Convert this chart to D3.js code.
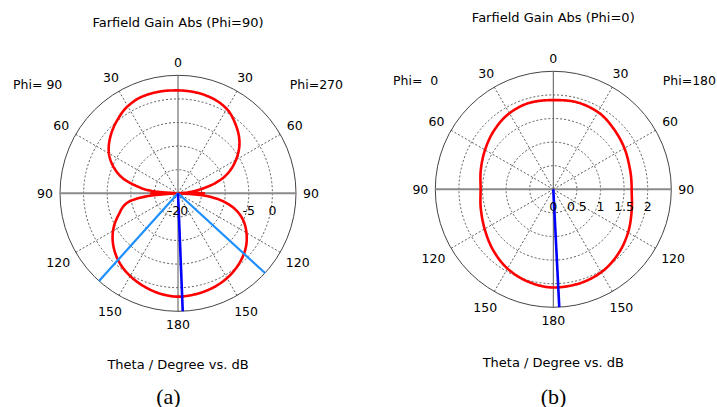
<!DOCTYPE html>
<html><head><meta charset="utf-8">
<script src="https://cdn.jsdelivr.net/npm/d3@7"></script>
<style>
html,body{margin:0;padding:0;background:#fff;}
svg{display:block;}
text{font-family:"DejaVu Sans",Verdana,sans-serif;fill:#000;}
</style></head>
<body><svg id="chart" width="717" height="407"></svg>
<script>
// ---------- data ----------
// theta in degrees, measured from the 0 mark (top), both half-planes
const thetaA = [0,10,20,30,40,50,60,70,75,80,85,88,90,92,95,100,110,120,130,140,150,160,170,180];
// (a) Phi=270 half (right side), gain in dB
const gainA_phi270 = [1.8,1.7,1.4,0.65,-1.0,-3.0,-5.8,-9.4,-12.0,-15.2,-18,-19.8,-14.5,-19.8,-14.5,-10.3,-5.8,-3.25,-1.4,-0.15,0.75,1.35,1.7,1.9];
// (a) Phi=90 half (left side), gain in dB
const gainA_phi90  = [1.8,1.9,1.85,1.3,0.1,-1.3,-3.1,-6.0,-8.0,-11.0,-14.5,-19.5,-14.3,-19.5,-14.0,-9.3,-6.6,-4.1,-2.2,-0.75,0.25,1.0,1.6,1.9];

const thetaB = [0,15,30,45,60,75,90,105,120,135,150,165,180];
// (b) Phi=180 half (right side), gain in dB
const gainB_phi180 = [1.89,1.91,1.89,1.81,1.74,1.68,1.66,1.72,1.83,1.94,2.03,2.07,2.08];
// (b) Phi=0 half (left side), gain in dB
const gainB_phi0   = [1.89,1.9,1.86,1.77,1.67,1.59,1.54,1.59,1.68,1.81,1.94,2.03,2.08];

// main lobe direction and 3 dB beam-width markers (degrees, clockwise from top)
const mainLobeA = [177.7];
const beamWidthA = [132.5, 222];
const mainLobeB = [177.1];
const beamWidthB = [];

const radialDomainA = [-20, 5];
const radialDomainB = [0, 2.5];
const gridA = [-15, -10, -5, 0];
const gridB = [0.5, 1, 1.5, 2];
const tickLabelsA = [-20, -5, 0];
const tickLabelsB = [0, 0.5, 1, 1.5, 2];
const angleTicks = [0, 30, 60, 90, 120, 150, 180, 210, 240, 270, 300, 330];

const titles = ["Farfield Gain Abs (Phi=90)", "Farfield Gain Abs (Phi=0)"];
const leftPhi = ["Phi= 90", "Phi=  0"];
const rightPhi = ["Phi=270", "Phi=180"];
const xLabel = "Theta / Degree vs. dB";
const captions = ["(a)", "(b)"];

// ---------- drawing ----------
const svg = d3.select("#chart");
const R = 118;
const rad = d => d * Math.PI / 180;

// monotone cubic (Fritsch-Carlson) interpolation of gain vs. angle, sampled finely
function densify(xs, ys, step) {
  const n = xs.length, h = [], s = [], m = new Array(n);
  for (let i = 0; i < n - 1; i++) { h[i] = xs[i+1] - xs[i]; s[i] = (ys[i+1] - ys[i]) / h[i]; }
  m[0] = 0; m[n-1] = 0;
  for (let i = 1; i < n - 1; i++) {
    if (s[i-1] * s[i] <= 0) m[i] = 0;
    else m[i] = 3 * (h[i-1] + h[i]) / ((2*h[i] + h[i-1]) / s[i-1] + (h[i] + 2*h[i-1]) / s[i]);
  }
  const out = [];
  for (let i = 0; i < n - 1; i++) {
    for (let x = xs[i]; x < xs[i+1] - 1e-9; x += step) {
      const t = (x - xs[i]) / h[i], t2 = t*t, t3 = t2*t;
      const y = (2*t3 - 3*t2 + 1) * ys[i] + (t3 - 2*t2 + t) * h[i] * m[i]
              + (-2*t3 + 3*t2) * ys[i+1] + (t3 - t2) * h[i] * m[i+1];
      out.push([x, y]);
    }
  }
  out.push([xs[n-1], ys[n-1]]);
  return out;
}

function drawPolar(cfg) {
  const g = svg.append("g").attr("transform", `translate(${cfg.cx},${cfg.cy})`);
  const r = d3.scaleLinear().domain(cfg.domain).range([0, R]).clamp(true);

  // dashed grid circles
  g.selectAll("circle.grid").data(cfg.grid).join("circle")
    .attr("r", d => r(d)).attr("fill", "none")
    .attr("stroke", "#333").attr("stroke-width", 0.8).attr("stroke-dasharray", "2,2");
  // dashed spokes
  const spokes = angleTicks.filter(a => a % 90 !== 0);
  g.selectAll("line.spoke").data(spokes).join("line")
    .attr("x1", 0).attr("y1", 0)
    .attr("x2", a => R * Math.sin(rad(a))).attr("y2", a => -R * Math.cos(rad(a)))
    .attr("stroke", "#333").attr("stroke-width", 0.8).attr("stroke-dasharray", "2,2");
  // outer circle
  g.append("circle").attr("r", R).attr("fill", "none").attr("stroke", "#444").attr("stroke-width", 1);
  // axes
  g.append("line").attr("x1", -R).attr("x2", R).attr("y1", 0).attr("y2", 0)
    .attr("stroke", "#8a8a8a").attr("stroke-width", 2);
  g.append("line").attr("x1", 0).attr("x2", 0).attr("y1", -R).attr("y2", R)
    .attr("stroke", "#555").attr("stroke-width", 1);

  // pattern: right half 0..180, then left half 180..0 (angle 360-theta)
  const right = densify(cfg.theta, cfg.right, 0.5);
  const left = densify(cfg.theta, cfg.left, 0.5);
  const pts = right.map(([t, v]) => [rad(t), r(v)]);
  for (let i = left.length - 2; i >= 1; i--) pts.push([rad(360 - left[i][0]), r(left[i][1])]);
  const line = d3.lineRadial().curve(d3.curveLinearClosed);
  g.append("path").attr("d", line(pts)).attr("fill", "none")
    .attr("stroke", "#ff0000").attr("stroke-width", 2.6).attr("stroke-linejoin", "round");

  // beam width markers
  const seg = d3.lineRadial();
  cfg.beam.forEach(a => {
    g.append("path").attr("d", seg([[rad(a), 0], [rad(a), R]]))
      .attr("stroke", "#1e8fff").attr("stroke-width", 2.2).attr("fill", "none");
  });
  cfg.main.forEach(a => {
    g.append("path").attr("d", seg([[rad(a), 0], [rad(a), R]]))
      .attr("stroke", "#0000ff").attr("stroke-width", 2.6).attr("fill", "none");
  });

  // radial tick labels
  g.selectAll("text.rt").data(cfg.ticks).join("text")
    .attr("x", d => r(d)).attr("y", 17)
    .attr("text-anchor", "middle").attr("dominant-baseline", "central")
    .attr("font-size", 12.5).text(d => d);

  // angle labels
  angleTicks.forEach(a => {
    const txt = a <= 180 ? a : 360 - a;
    const t = g.append("text").attr("text-anchor", "middle").attr("dominant-baseline", "central")
      .attr("font-size", 12.5).text(txt);
    const hw = t.node().getComputedTextLength() / 2, hh = 6;
    const s = Math.sin(rad(a)), c = Math.cos(rad(a));
    const d = R + 7 + hw * Math.abs(s) + hh * Math.abs(c);
    t.attr("x", d * s).attr("y", -d * c);
  });

  // titles
  svg.append("text").attr("x", cfg.cx).attr("y", cfg.titleY).attr("text-anchor", "middle")
    .attr("dominant-baseline", "central").attr("font-size", 13).text(cfg.title);
  svg.append("text").attr("x", cfg.phiLX).attr("y", cfg.phiY).attr("text-anchor", "start")
    .attr("dominant-baseline", "central").attr("font-size", 12.5).style("white-space", "pre").text(cfg.phiL);
  svg.append("text").attr("x", cfg.phiRX).attr("y", cfg.phiY).attr("text-anchor", "end")
    .attr("dominant-baseline", "central").attr("font-size", 12.5).style("white-space", "pre").text(cfg.phiR);
  svg.append("text").attr("x", cfg.cx).attr("y", cfg.xlabY).attr("text-anchor", "middle")
    .attr("dominant-baseline", "central").attr("font-size", 13).text(xLabel);
  svg.append("text").attr("x", cfg.capX).attr("y", 396).attr("text-anchor", "middle")
    .attr("dominant-baseline", "central").attr("font-size", 22)
    .style("font-family", '"Liberation Serif","Times New Roman",serif').text(cfg.cap);
}

drawPolar({cx: 178, cy: 193.3, domain: radialDomainA, grid: gridA, ticks: tickLabelsA,
  theta: thetaA, right: gainA_phi270, left: gainA_phi90, beam: beamWidthA, main: mainLobeA,
  title: titles[0], titleY: 22, phiL: leftPhi[0], phiR: rightPhi[0], phiLX: 13, phiRX: 343, phiY: 84,
  xlabY: 364, cap: captions[0], capX: 168.5});
drawPolar({cx: 553.3, cy: 189.3, domain: radialDomainB, grid: gridB, ticks: tickLabelsB,
  theta: thetaB, right: gainB_phi180, left: gainB_phi0, beam: beamWidthB, main: mainLobeB,
  title: titles[1], titleY: 17.5, phiL: leftPhi[1], phiR: rightPhi[1], phiLX: 393, phiRX: 716, phiY: 80,
  xlabY: 362.5, cap: captions[1], capX: 553.5});
</script></body></html>
